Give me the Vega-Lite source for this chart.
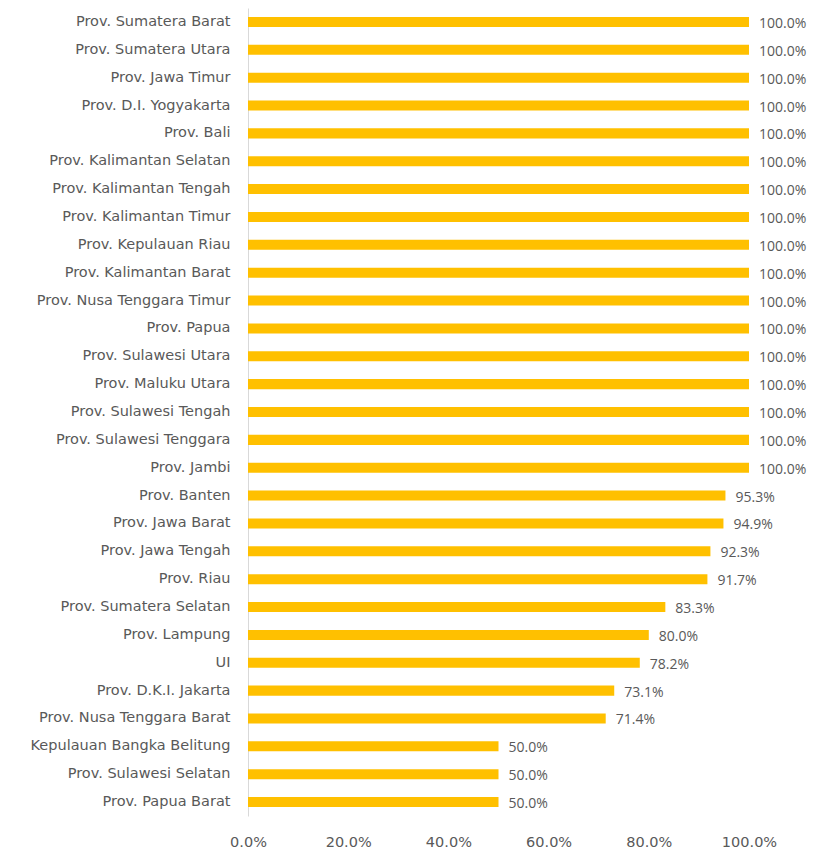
{
  "$schema": "https://vega.github.io/schema/vega-lite/v6.json",
  "autosize": "none",
  "width": 501,
  "height": 808,
  "padding": {"left": 248, "top": 8, "right": 66, "bottom": 34},
  "background": "white",
  "config": {"view": {"stroke": null}},
  "data": {"values": [
    {"region": "Prov. Sumatera Barat", "value": 1.0},
    {"region": "Prov. Sumatera Utara", "value": 1.0},
    {"region": "Prov. Jawa Timur", "value": 1.0},
    {"region": "Prov. D.I. Yogyakarta", "value": 1.0},
    {"region": "Prov. Bali", "value": 1.0},
    {"region": "Prov. Kalimantan Selatan", "value": 1.0},
    {"region": "Prov. Kalimantan Tengah", "value": 1.0},
    {"region": "Prov. Kalimantan Timur", "value": 1.0},
    {"region": "Prov. Kepulauan Riau", "value": 1.0},
    {"region": "Prov. Kalimantan Barat", "value": 1.0},
    {"region": "Prov. Nusa Tenggara Timur", "value": 1.0},
    {"region": "Prov. Papua", "value": 1.0},
    {"region": "Prov. Sulawesi Utara", "value": 1.0},
    {"region": "Prov. Maluku Utara", "value": 1.0},
    {"region": "Prov. Sulawesi Tengah", "value": 1.0},
    {"region": "Prov. Sulawesi Tenggara", "value": 1.0},
    {"region": "Prov. Jambi", "value": 1.0},
    {"region": "Prov. Banten", "value": 0.953},
    {"region": "Prov. Jawa Barat", "value": 0.949},
    {"region": "Prov. Jawa Tengah", "value": 0.923},
    {"region": "Prov. Riau", "value": 0.917},
    {"region": "Prov. Sumatera Selatan", "value": 0.833},
    {"region": "Prov. Lampung", "value": 0.8},
    {"region": "UI", "value": 0.782},
    {"region": "Prov. D.K.I. Jakarta", "value": 0.731},
    {"region": "Prov. Nusa Tenggara Barat", "value": 0.714},
    {"region": "Kepulauan Bangka Belitung", "value": 0.5},
    {"region": "Prov. Sulawesi Selatan", "value": 0.5},
    {"region": "Prov. Papua Barat", "value": 0.5}
  ]},
  "encoding": {
    "y": {
      "field": "region", "type": "nominal", "sort": null,
      "scale": {"paddingInner": 0.64, "paddingOuter": 0.32},
      "axis": {
        "title": null, "ticks": false, "domain": true, "domainColor": "#d9d9d9", "domainWidth": 1,
        "labelFont": "DejaVu Sans", "labelFontSize": 14.5, "labelColor": "#595959", "labelPadding": 18,
        "labelLimit": 300
      }
    },
    "x": {
      "field": "value", "type": "quantitative",
      "scale": {"domain": [0, 1], "nice": false},
      "axis": {
        "title": null, "format": ".1%", "values": [0, 0.2, 0.4, 0.6, 0.8, 1.0],
        "grid": false, "ticks": false, "domain": false, "labelFlush": false, "labelOverlap": false,
        "labelFont": "DejaVu Sans", "labelFontSize": 14.5, "labelColor": "#595959", "labelPadding": 19
      }
    }
  },
  "layer": [
    {"mark": {"type": "bar", "color": "#FFC000"}},
    {
      "mark": {"type": "text", "align": "left", "baseline": "middle", "dx": 10, "dy": 2, "font": "Open Sans", "fontSize": 14, "color": "#595959"},
      "encoding": {"text": {"field": "value", "type": "quantitative", "format": ".1%"}}
    }
  ]
}
